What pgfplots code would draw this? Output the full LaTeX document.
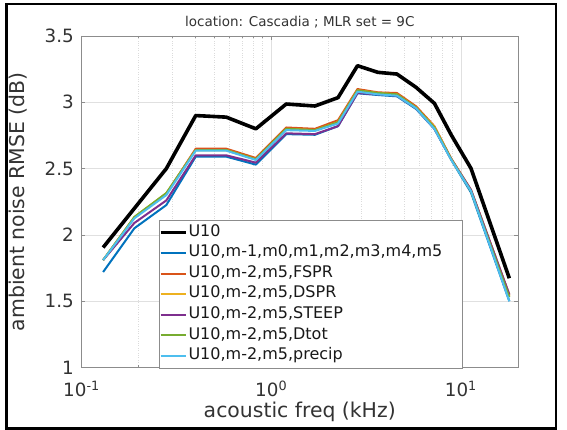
\documentclass[border=0pt]{standalone}
\usepackage{fontspec}
\setmainfont{DejaVu Sans}
\usepackage{pgfplots}
\pgfplotsset{compat=1.18}

\definecolor{c1}{rgb}{0,0.447,0.741}
\definecolor{c2}{rgb}{0.850,0.325,0.098}
\definecolor{c3}{rgb}{0.929,0.694,0.125}
\definecolor{c4}{rgb}{0.494,0.184,0.556}
\definecolor{c5}{rgb}{0.466,0.674,0.188}
\definecolor{c6}{rgb}{0.301,0.745,0.933}

\begin{document}
\begin{tikzpicture}
\path[use as bounding box] (0,0) rectangle (567pt,430pt);
\draw[line width=2.7pt] (6.7pt,1.5pt) rectangle (556pt,426pt);
\begin{axis}[
  at={(81.5pt,62.5pt)}, anchor=south west,
  width=436.5pt, height=331.5pt, scale only axis,
  xmode=log, xmin=0.1, xmax=20, ymin=1, ymax=3.5,
  xtick={0.1,1,10},
  xticklabels={{10\textsuperscript{-1}},{10\textsuperscript{0}},{10\textsuperscript{1}}},
  minor xtick={0.2,0.3,0.4,0.5,0.6,0.7,0.8,0.9,2,3,4,5,6,7,8,9},
  ytick={1,1.5,2,2.5,3,3.5},
  yticklabels={1,1.5,2,2.5,3,3.5},
  xmajorgrids, ymajorgrids, xminorgrids,
  major grid style={black!12, line width=0.5pt},
  minor grid style={black!14, dotted, line width=0.5pt},
  axis line style={black!45, line width=0.6pt},
  tick style={black!45, line width=0.5pt},
  tick align=inside, major tick length=4pt, minor tick length=2.5pt,
  ticklabel style={font=\fontsize{18.3}{20}\selectfont, text=black!80},
  yticklabel style={anchor=east, inner xsep=0pt, inner ysep=0pt, xshift=-7.5pt},
  xticklabel style={anchor=base, yshift=-29.2pt},
  xlabel={acoustic freq (kHz)},
  ylabel={ambient noise RMSE (dB)},
  xlabel style={at={(axis description cs:0.5,-0.1523)}, anchor=base,
    font=\fontsize{20.4}{22}\selectfont, text=black!80},
  ylabel style={at={(axis description cs:-0.1304,0.5)}, anchor=base, rotate=0,
    font=\fontsize{20.4}{22}\selectfont, text=black!80},
  title={location: Cascadia ; MLR set = 9C},
  title style={at={(axis description cs:0.5,1.0097)}, anchor=base,
    font=\fontsize{13.5}{15}\selectfont, text=black!80},
  legend cell align=left,
  legend image code/.code={\draw[#1] (0pt,0pt) -- (25pt,0pt);},
  legend style={at={(0.1769,-0.0015)}, anchor=south west,
    draw=black!45, fill=white, inner xsep=0pt, inner ysep=1.5pt,
    font=\fontsize{16}{18}\selectfont, text=black!90,
    nodes={inner xsep=1pt, inner ysep=2pt, text height=12pt, text depth=4.6pt},
    /tikz/every even column/.append style={text width=273pt}},
  every axis plot/.append style={line join=round},
]
% U10 only
\addplot[black, line width=3.6pt] coordinates {
  (0.13,1.905) (0.19,2.20) (0.28,2.50) (0.40,2.90) (0.58,2.888) (0.83,2.80)
  (1.2,2.987) (1.7,2.972) (2.25,3.035) (2.85,3.276) (3.65,3.226) (4.6,3.213)
  (5.8,3.113) (7.25,2.992) (8.9,2.753) (11.3,2.502) (18,1.673)};
\addlegendentry{U10}
% U10 plus mean-period moments
\addplot[c1, line width=2pt] coordinates {
  (0.13,1.72) (0.19,2.05) (0.28,2.225) (0.40,2.59) (0.58,2.59) (0.83,2.53)
  (1.2,2.76) (1.7,2.755) (2.25,2.82) (2.85,3.068) (3.65,3.055) (4.6,3.045)
  (5.8,2.95) (7.25,2.80) (8.9,2.565) (11.3,2.32) (18,1.50)};
\addlegendentry{U10,m-1,m0,m1,m2,m3,m4,m5}
\addplot[c2, line width=2pt] coordinates {
  (0.13,1.81) (0.19,2.13) (0.28,2.31) (0.40,2.65) (0.58,2.65) (0.83,2.58)
  (1.2,2.81) (1.7,2.80) (2.25,2.865) (2.85,3.10) (3.65,3.075) (4.6,3.07)
  (5.8,2.97) (7.25,2.82) (8.9,2.575) (11.3,2.34) (18,1.55)};
\addlegendentry{U10,m-2,m5,FSPR}
\addplot[c3, line width=2pt] coordinates {
  (0.13,1.81) (0.19,2.135) (0.28,2.315) (0.40,2.64) (0.58,2.64) (0.83,2.57)
  (1.2,2.80) (1.7,2.79) (2.25,2.85) (2.85,3.09) (3.65,3.07) (4.6,3.06)
  (5.8,2.96) (7.25,2.815) (8.9,2.57) (11.3,2.335) (18,1.54)};
\addlegendentry{U10,m-2,m5,DSPR}
\addplot[c4, line width=2pt] coordinates {
  (0.13,1.81) (0.19,2.09) (0.28,2.26) (0.40,2.60) (0.58,2.60) (0.83,2.545)
  (1.2,2.766) (1.7,2.76) (2.25,2.82) (2.85,3.07) (3.65,3.06) (4.6,3.05)
  (5.8,2.955) (7.25,2.80) (8.9,2.57) (11.3,2.34) (18,1.55)};
\addlegendentry{U10,m-2,m5,STEEP}
\addplot[c5, line width=2pt] coordinates {
  (0.13,1.81) (0.19,2.135) (0.28,2.315) (0.40,2.64) (0.58,2.64) (0.83,2.57)
  (1.2,2.80) (1.7,2.79) (2.25,2.85) (2.85,3.09) (3.65,3.07) (4.6,3.06)
  (5.8,2.96) (7.25,2.81) (8.9,2.57) (11.3,2.33) (18,1.53)};
\addlegendentry{U10,m-2,m5,Dtot}
\addplot[c6, line width=2pt] coordinates {
  (0.13,1.81) (0.19,2.125) (0.28,2.30) (0.40,2.635) (0.58,2.635) (0.83,2.565)
  (1.2,2.79) (1.7,2.784) (2.25,2.84) (2.85,3.08) (3.65,3.06) (4.6,3.05)
  (5.8,2.955) (7.25,2.80) (8.9,2.565) (11.3,2.33) (18,1.50)};
\addlegendentry{U10,m-2,m5,precip}
\end{axis}
\end{tikzpicture}
\end{document}
